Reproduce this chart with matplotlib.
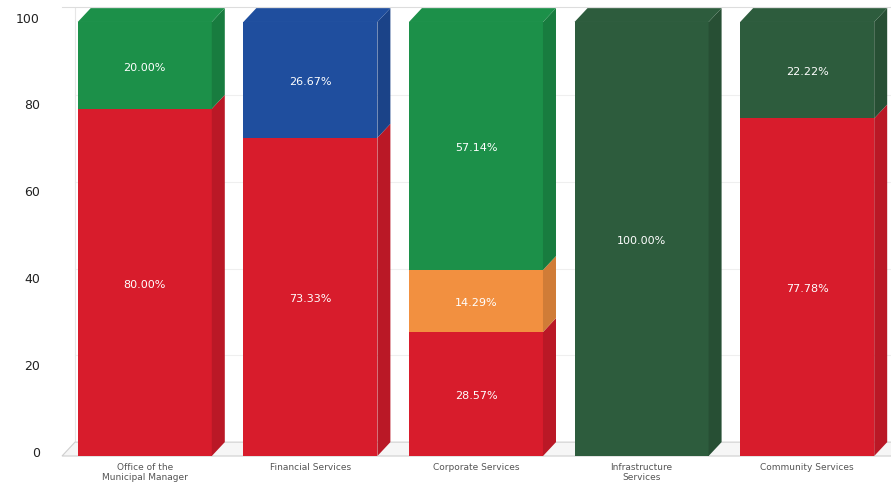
import matplotlib
matplotlib.use("Agg")
import matplotlib.pyplot as plt
from matplotlib.patches import Polygon
import numpy as np

categories = ["Office of the\nMunicipal Manager", "Financial Services",
              "Corporate Services", "Infrastructure\nServices", "Community Services"]

# stacked segments, bottom to top
red_vals = [80.00, 73.33, 28.57, 0.0, 77.78]
orange_vals = [0.0, 0.0, 14.29, 0.0, 0.0]
green_vals = [20.00, 0.0, 57.14, 0.0, 0.0]
blue_vals = [0.0, 26.67, 0.0, 0.0, 0.0]
dkgreen_vals = [0.0, 0.0, 0.0, 100.00, 22.22]

series = [
    (red_vals, "#d81c2c"),
    (orange_vals, "#f29040"),
    (green_vals, "#1c9049"),
    (blue_vals, "#1f4e9e"),
    (dkgreen_vals, "#2d5c3d"),
]

def darker(c, f=0.86):
    r, g, b = matplotlib.colors.to_rgb(c)
    return (r * f, g * f, b * f)

fig = plt.figure(figsize=(8.91, 4.94), dpi=100)
ax = fig.add_axes([0.0696, 0.0769, 0.9304, 0.9089])

x = np.arange(len(categories))
w = 0.888            # front + side
dx, dy = 0.0785, 3.2  # depth of the 3d effect
left = x - w / 2
front_w = w - dx
x0, x1 = -0.539, 4.467

# floor
ax.add_patch(Polygon([(x0, 0), (x1, 0), (x1 + dx, dy), (x0 + dx, dy)],
                     closed=True, facecolor="#f6f6f6", edgecolor="#cfcfcf",
                     lw=0.8, zorder=0.5, clip_on=False))
ax.plot([x0 + dx, x0 + dx], [dy, 103.45], color="#e6e6e6", lw=0.8, zorder=0.4)

for yv in [20, 40, 60, 80]:
    ax.plot([x0 + dx, x1], [yv + dy, yv + dy], color="#efefef", lw=0.8, zorder=0)

bottom = np.zeros(len(categories))
for vals, col in series:
    vals = np.array(vals)
    ax.bar(left, vals, width=front_w, bottom=bottom, align="edge",
           color=col, edgecolor="none", zorder=2)
    for i, v in enumerate(vals):
        if v <= 0:
            continue
        b = bottom[i]
        xl = left[i]
        xr = xl + front_w
        side = [(xr, b), (xr + dx, b + dy), (xr + dx, b + v + dy), (xr, b + v)]
        ax.add_patch(Polygon(side, closed=True, facecolor=darker(col),
                             edgecolor="none", zorder=2))
        if b + v >= 99.99:
            top = [(xl, b + v), (xl + dx, b + v + dy), (xr + dx, b + v + dy), (xr, b + v)]
            ax.add_patch(Polygon(top, closed=True, facecolor=col,
                                 edgecolor="none", zorder=2))
        ax.text(xl + front_w / 2, b + v / 2 - 0.5, f"{v:.2f}%",
                ha="center", va="center", color="white", fontsize=8, zorder=3)
    bottom = bottom + vals

ax.set_xlim(x0, x1)
ax.set_ylim(0, 103.45)
ticks = [0, 20, 40, 60, 80, 100]
ax.set_yticks([t + 1 for t in ticks])
ax.set_yticklabels([str(t) for t in ticks])
ax.set_xticks(left + front_w / 2)
ax.set_xticklabels(categories, fontsize=6.5, color="#555555")
ax.tick_params(axis="y", labelsize=9, colors="#222222", length=0, pad=16)
ax.tick_params(axis="x", length=0, pad=5)
for s in ["right", "left", "bottom"]:
    ax.spines[s].set_visible(False)
ax.spines["top"].set_color("#dddddd")

fig.savefig("out.png", dpi=100)
